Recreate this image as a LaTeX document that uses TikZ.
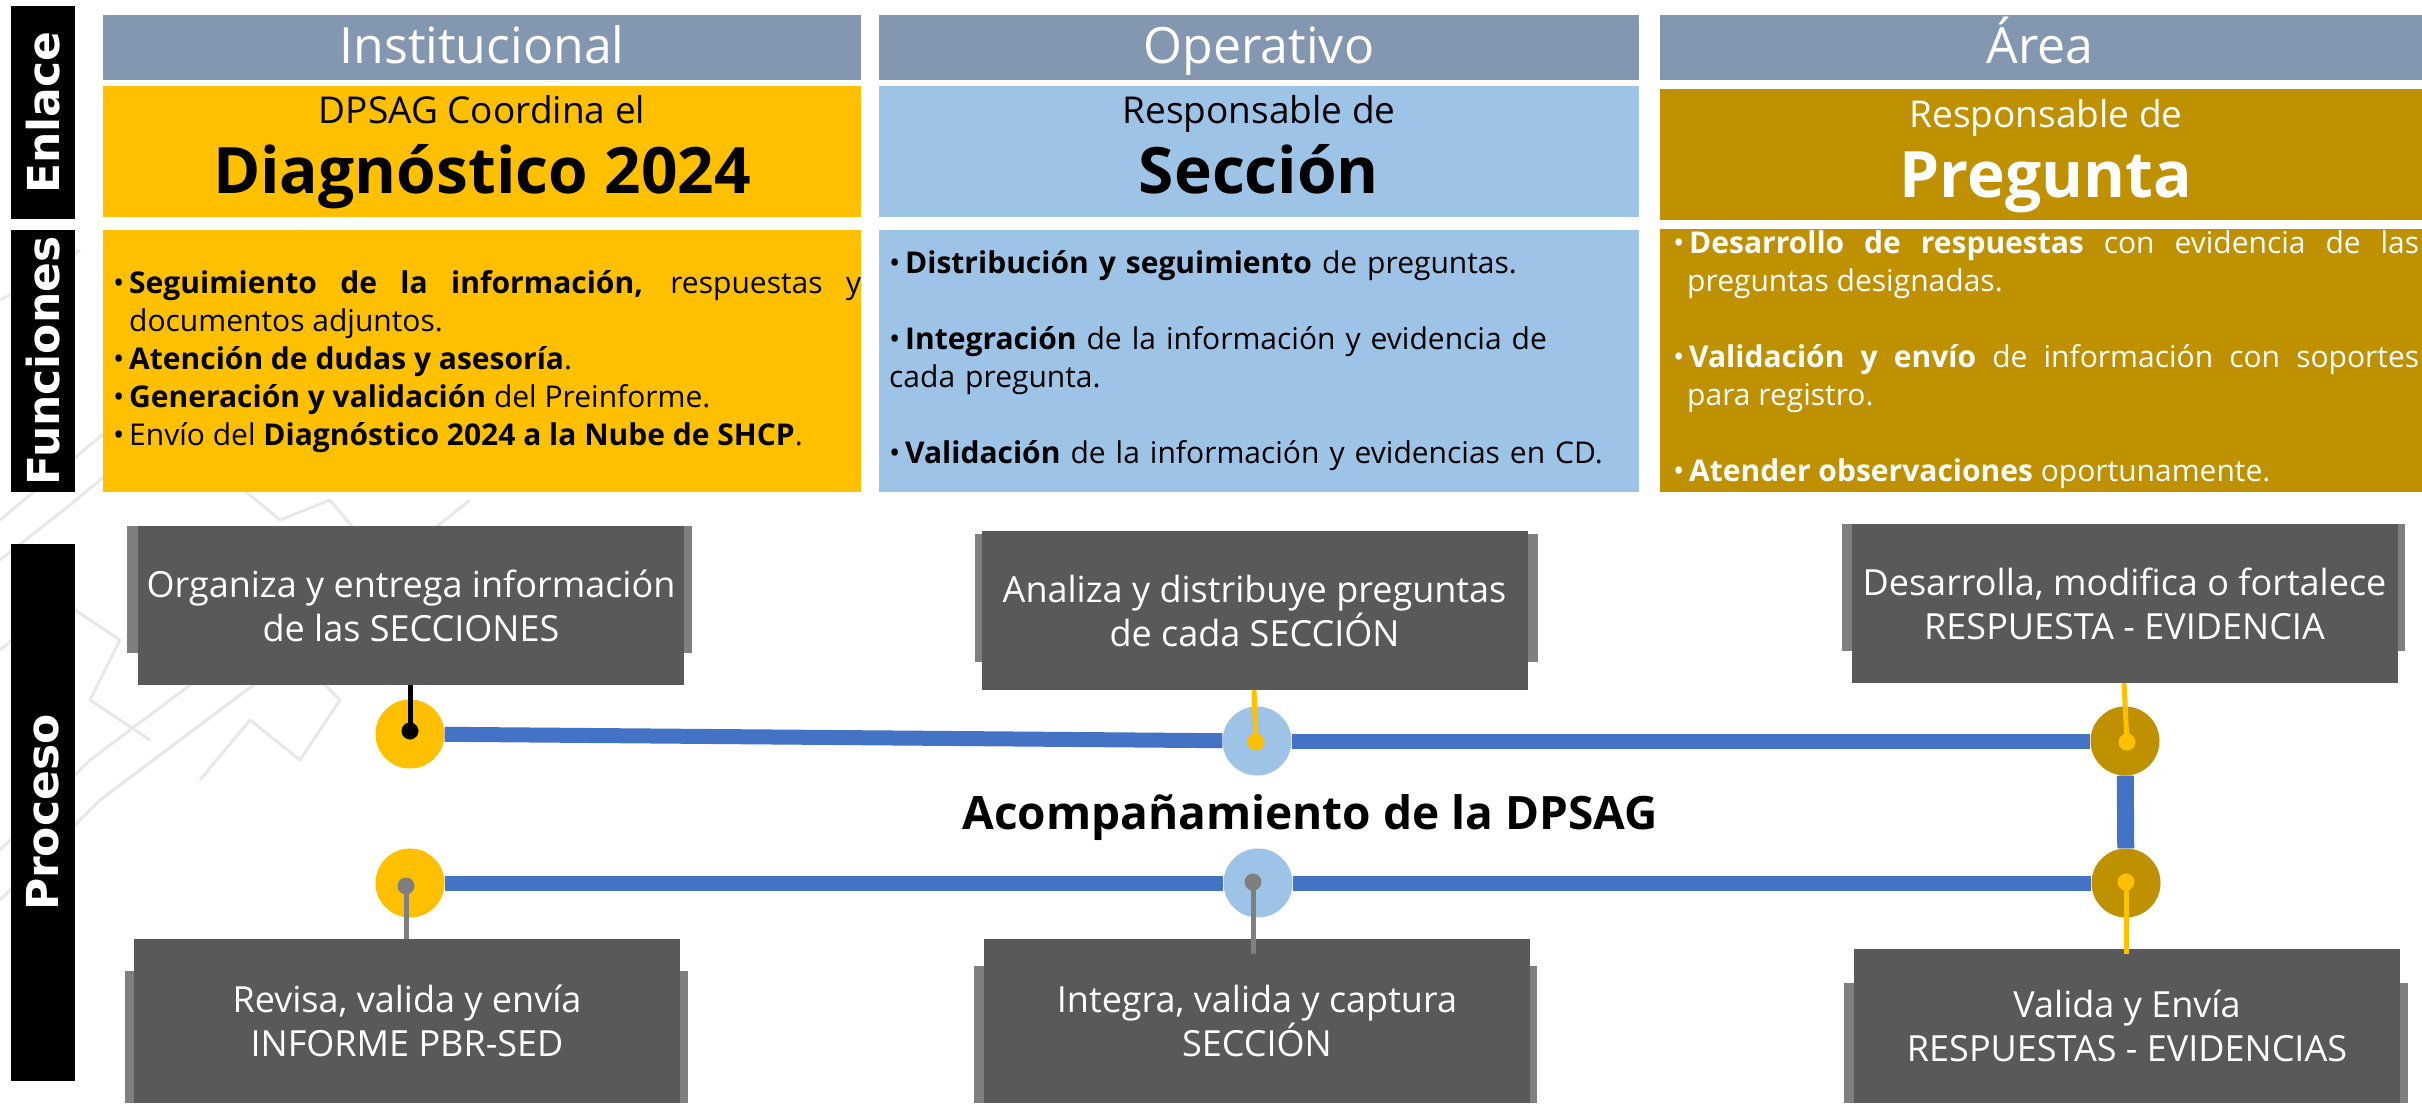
\documentclass[tikz,border=0pt]{standalone}
\usepackage{fontspec}
\setmainfont{Open Sans}
\newfontfamily\barfont{DejaVu Sans}
\definecolor{hdr}{HTML}{8497B0}
\definecolor{yel}{HTML}{FFC000}
\definecolor{lblue}{HTML}{9DC3E6}
\definecolor{gold}{HTML}{BF9000}
\definecolor{dgrey}{HTML}{595959}
\definecolor{mgrey}{HTML}{7F7F7F}
\definecolor{lineblue}{HTML}{4472C4}
\definecolor{wmark}{HTML}{E8E8E8}
\newcommand{\fsz}[2]{\fontsize{#1}{#2}\selectfont}
\newcommand{\bul}{\makebox[16pt][l]{•}}
\tikzset{
  sidebar/.style={fill=black, inner sep=0pt, minimum width=64pt},
  bartext/.style={rotate=90, text=white, font=\barfont\bfseries\fsz{44}{50}},
  hbox/.style={fill=hdr, inner sep=0pt, minimum height=65pt},
  htext/.style={text=white, font=\fsz{50}{60}, anchor=base, inner sep=0pt},
  smalltxt/.style={font=\fsz{37}{44}, anchor=base, inner sep=0pt},
  bigtxt/.style={font=\bfseries\fsz{64}{70}, anchor=base, inner sep=0pt},
  functxt/.style={font=\fsz{30}{38}, anchor=base west, inner sep=0pt},
  procbox/.style={fill=dgrey, inner sep=0pt, minimum width=546pt, minimum height=159pt,
     text=white, font=\fsz{36}{44}, align=center},
  ring/.style={circle, inner sep=0pt, minimum size=69pt},
  dot/.style={circle, inner sep=0pt, minimum size=17pt},
  bline/.style={lineblue, line width=15pt},
  stem/.style={line width=5pt},
  wm/.style={wmark, line width=3pt, line join=round}
}
\begin{document}
\begin{tikzpicture}[x=1pt,y=-1pt]
\useasboundingbox (0,0) rectangle (2422,1103);
\fill[white] (0,0) rectangle (2422,1103);
% watermark (faint map outline)
\draw[wm] (0,520) -- (60,470) -- (120,420) -- (200,380) -- (260,330) -- (330,300);
\draw[wm] (0,560) -- (70,505) -- (130,455) -- (210,415) -- (270,365) -- (340,335);
\draw[wm] (0,850) -- (90,760) -- (170,700) -- (250,640) -- (330,600) -- (420,540) -- (470,500);
\draw[wm] (0,900) -- (100,800) -- (180,740) -- (260,680) -- (340,640) -- (430,580) -- (480,540);
\draw[wm] (140,560) -- (200,620) -- (260,600) -- (300,660) -- (340,700) -- (300,760) -- (250,720) -- (200,780);
\draw[wm] (0,650) -- (60,600) -- (120,640) -- (90,700) -- (150,740);
\draw[wm] (220,470) -- (280,520) -- (330,500) -- (380,560);
\draw[wm] (300,230) -- (330,260) -- (380,240);
\draw[wm] (0,300) -- (40,280) -- (80,250);
% side bars
\node[sidebar, minimum height=213pt, anchor=north west] (enl) at (11,6) {};
\node[bartext] (enlt) at (enl.center) {Enlace};
\node[sidebar, minimum height=262pt, anchor=north west] (fun) at (11,230) {};
\node[bartext] (funt) at (fun.center) {Funciones};
\node[sidebar, minimum height=537pt, anchor=north west] (pro) at (11,544) {};
\node[bartext] (prot) at (pro.center) {Proceso};
% headers
\node[hbox, minimum width=758pt, anchor=north west] (h1) at (103,15) {};
\node[hbox, minimum width=760pt, anchor=north west] (h2) at (879,15) {};
\node[hbox, minimum width=762pt, anchor=north west] (h3) at (1660,15) {};
\node[htext] (h1t) at (482,63) {Institucional};
\node[htext] (h2t) at (1259,63) {Operativo};
\node[htext] (h3t) at (2040,63) {Área};
% enlace boxes
\node[fill=yel, inner sep=0pt, minimum width=758pt, minimum height=131pt, anchor=north west] (e1) at (103,86) {};
\node[fill=lblue, inner sep=0pt, minimum width=760pt, minimum height=131pt, anchor=north west] (e2) at (879,86) {};
\node[fill=gold, inner sep=0pt, minimum width=762pt, minimum height=131pt, anchor=north west] (e3) at (1660,89) {};
\node[smalltxt] (e1a) at (482,123) {DPSAG Coordina el};
\node[bigtxt] (e1b) at (482,193) {Diagnóstico 2024};
\node[smalltxt] (e2a) at (1259,123) {Responsable de};
\node[bigtxt] (e2b) at (1259,193) {Sección};
\node[smalltxt, text=white] (e3a) at (2046,127) {Responsable de};
\node[bigtxt, text=white] (e3b) at (2046,197) {Pregunta};
% funciones boxes
\node[fill=yel, inner sep=0pt, minimum width=758pt, minimum height=262pt, anchor=north west] (f1) at (103,230) {};
\node[fill=lblue, inner sep=0pt, minimum width=760pt, minimum height=262pt, anchor=north west] (f2) at (879,230) {};
\node[fill=gold, inner sep=0pt, minimum width=762pt, minimum height=263pt, anchor=north west] (f3) at (1660,229) {};
\node[functxt, text width=748pt, align=justify] (f1t) at (113,293) {%
\hangindent=16pt\hangafter=1\bul\textbf{Seguimiento de la información,} respuestas y\linebreak documentos adjuntos.\par
\hangindent=16pt\hangafter=1\bul\textbf{Atención de dudas y asesoría}.\par
\hangindent=16pt\hangafter=1\bul\textbf{Generación y validación} del Preinforme.\par
\hangindent=16pt\hangafter=1\bul Envío del \textbf{Diagnóstico 2024 a la Nube de SHCP}.\par};
\node[functxt, text width=740pt, align=left] (f2t) at (889,273) {%
\bul\textbf{Distribución y seguimiento} de preguntas.\\[38pt]
\bul\textbf{Integración} de la información y evidencia de\\
cada pregunta.\\[38pt]
\bul\textbf{Validación} de la información y evidencias en CD.};
\node[functxt, text width=746pt, align=justify, text=white] (f3t) at (1673,253) {%
\hangindent=14pt\hangafter=1\bul\textbf{Desarrollo de respuestas} con evidencia de las\linebreak preguntas designadas.\par\vspace{38pt}
\hangindent=14pt\hangafter=1\bul\textbf{Validación y envío} de información con soportes\linebreak para registro.\par\vspace{38pt}
\hangindent=14pt\hangafter=1\bul\textbf{Atender observaciones} oportunamente.\par};
% process: side shading bars
\fill[mgrey] (127,526) rectangle (692,653);
\fill[mgrey] (975,534) rectangle (1538,662);
\fill[mgrey] (1842,524) rectangle (2405,651);
\fill[mgrey] (125,971) rectangle (688,1103);
\fill[mgrey] (974,966) rectangle (1537,1103);
\fill[mgrey] (1844,983) rectangle (2408,1103);
% process boxes
\node[procbox] (p1) at (411,605.5) {Organiza y entrega información\\de las SECCIONES};
\node[procbox] (p2) at (1254.5,610.5) {Analiza y distribuye preguntas\\de cada SECCIÓN};
\node[procbox] (p3) at (2124.5,603.5) {Desarrolla, modifica o fortalece\\RESPUESTA - EVIDENCIA};
\node[procbox, minimum height=164pt] (p4) at (407,1021) {Revisa, valida y envía\\INFORME PBR-SED};
\node[procbox, minimum height=164pt] (p5) at (1257,1021) {Integra, valida y captura\\SECCIÓN};
\node[procbox, minimum height=154pt] (p6) at (2127,1026) {Valida y Envía\\RESPUESTAS - EVIDENCIAS};
% rings
\node[ring, fill=yel] (c1) at (410,734) {};
\node[ring, fill=lblue] (c2) at (1257,741) {};
\node[ring, fill=gold] (c3) at (2125,741) {};
\node[ring, fill=yel] (c4) at (410,883) {};
\node[ring, fill=lblue] (c5) at (1258,883) {};
\node[ring, fill=gold] (c6) at (2126,883) {};
% blue lines
\draw[bline] (c1) -- (c2);
\draw[bline] (c2) -- (c3);
\draw[bline, line width=17pt] (c3) -- (c6);
\draw[bline] (c4) -- (c5);
\draw[bline] (c5) -- (c6);
% dots and stems
\node[dot, fill=black] (d1) at (410,731) {};
\node[dot, fill=yel] (d2) at (1256,742) {};
\node[dot, fill=yel] (d3) at (2127,742) {};
\node[dot, fill=mgrey] (d4) at (406,886) {};
\node[dot, fill=mgrey] (d5) at (1253,882) {};
\node[dot, fill=yel] (d6) at (2126,882) {};
\draw[stem, black] (d1.center) -- (d1.center |- p1.south);
\draw[stem, yel] (d2.center) -- (p2.south -| 1254,0);
\draw[stem, yel] (d3.center) -- (p3.south -| 2124,0);
\draw[stem, mgrey] (d4.center) -- (d4.center |- p4.north);
\draw[stem, mgrey] (d5.center) -- ([yshift=-15pt]d5.center |- p5.north);
\draw[stem, yel] (d6.center) -- ([yshift=-5pt]d6.center |- p6.north);
% center label
\node[font=\bfseries\fsz{46}{50}, anchor=base, inner sep=0pt] (acomp) at (1310,829) {Acompañamiento de la DPSAG};
\end{tikzpicture}
\end{document}
